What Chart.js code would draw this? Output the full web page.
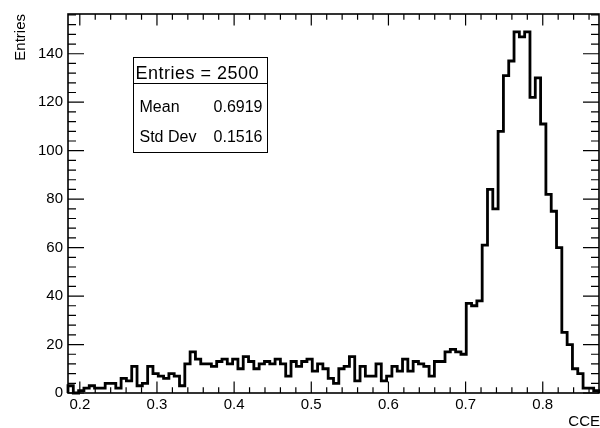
<!DOCTYPE html>
<html><head><meta charset="utf-8">
<script src="https://cdn.jsdelivr.net/npm/chart.js@4/dist/chart.umd.min.js"></script>
<style>html,body{margin:0;padding:0;background:#fff;overflow:hidden}canvas{display:block}</style>
</head><body>
<canvas id="c" width="600" height="428"></canvas>
<script>
// Histogram bin contents (100 equal bins between xMin and xMax)
const counts = [
  3,0,1,2,3,2,2,4,4,2,
  6,5,11,3,4,11,8,7,6,8,
  7,3,12,17,14,12,12,11,13,14,
  12,14,10,15,13,10,12,13,12,14,
  12,7,13,11,13,14,9,12,10,6,
  4,10,11,15,5,11,7,7,12,5,
  7,11,9,14,9,13,12,11,7,13,
  13,17,18,17,16,37,36,38,61,84,
  76,108,131,137,149,147,149,122,130,111,
  82,75,60,25,20,10,8,2,2,1
];
const xMin = 0.1847, xMax = 0.8729;
const yMin = 0, yMax = 156.4;
const xTickValues = [0.2,0.3,0.4,0.5,0.6,0.7,0.8];
const xTickLabels = ['0.2','0.3','0.4','0.5','0.6','0.7','0.8'];
const xMinorStep = 0.02;
const yTickValues = [0,20,40,60,80,100,120,140];
const yTickLabels = ['0','20','40','60','80','100','120','140'];
const yMinorStep = 4;
const xTitle = 'CCE';
const yTitle = 'Entries';
const statsHeader = 'Entries = 2500';
const statsNames = ['Mean','Std Dev'];
const statsValues = ['0.6919','0.1516'];

const FONT = '"Liberation Sans", Arial, Helvetica, sans-serif';

const nBins = counts.length;
const binW = (xMax - xMin) / nBins;
const points = [{x: xMin, y: 0}];
counts.forEach((c, i) => points.push({x: xMin + i * binW, y: c}));
points.push({x: xMax, y: counts[nBins - 1]});
points.push({x: xMax, y: 0});

const rootFrame = {
  id: 'rootFrame',
  afterDatasetsDraw(chart) {
    const ctx = chart.ctx;
    const a = chart.chartArea;
    const xs = chart.scales.x, ys = chart.scales.y;
    ctx.save();
    ctx.strokeStyle = '#000';
    // ticks
    ctx.lineWidth = 1.2;
    const xMajLen = 11.5, xMinLen = 5.8, yMajLen = 16, yMinLen = 8;
    ctx.beginPath();
    const xStart = Math.ceil(xMin / xMinorStep - 1e-9);
    for (let k = xStart; k * xMinorStep <= xMax + 1e-9; k++) {
      const v = k * xMinorStep;
      const isMaj = xTickValues.some(t => Math.abs(t - v) < 1e-6);
      const px = xs.getPixelForValue(v);
      const len = isMaj ? xMajLen : xMinLen;
      ctx.moveTo(px, a.bottom); ctx.lineTo(px, a.bottom - len);
      ctx.moveTo(px, a.top); ctx.lineTo(px, a.top + len);
    }
    for (let k = 0; k * yMinorStep <= yMax + 1e-9; k++) {
      const v = k * yMinorStep;
      const isMaj = yTickValues.includes(v);
      const py = ys.getPixelForValue(v);
      const len = isMaj ? yMajLen : yMinLen;
      ctx.moveTo(a.left, py); ctx.lineTo(a.left + len, py);
      ctx.moveTo(a.right, py); ctx.lineTo(a.right - len, py);
    }
    ctx.stroke();
    // frame
    ctx.lineWidth = 1.6;
    ctx.strokeRect(a.left, a.top, a.right - a.left, a.bottom - a.top);

    // axis titles
    ctx.fillStyle = '#000';
    ctx.font = '15px ' + FONT;
    ctx.textAlign = 'right';
    ctx.textBaseline = 'alphabetic';
    ctx.fillText(xTitle, 600, 426);
    ctx.save();
    ctx.translate(25, a.top);
    ctx.rotate(-Math.PI / 2);
    ctx.textAlign = 'right';
    ctx.fillText(yTitle, 0, 0);
    ctx.restore();

    // stats box
    const bx = 133.5, by = 57.5, bw = 134, bh = 95, div = 83.5;
    ctx.fillStyle = '#fff';
    ctx.fillRect(bx, by, bw, bh);
    ctx.lineWidth = 1;
    ctx.strokeStyle = '#000';
    ctx.strokeRect(bx, by, bw, bh);
    ctx.beginPath();
    ctx.moveTo(bx, div); ctx.lineTo(bx + bw, div);
    ctx.stroke();
    ctx.fillStyle = '#000';
    ctx.textBaseline = 'alphabetic';
    ctx.font = '18px ' + FONT;
    ctx.textAlign = 'left';
    if ('letterSpacing' in ctx) ctx.letterSpacing = '0.5px';
    ctx.fillText(statsHeader, bx + 2, 79);
    if ('letterSpacing' in ctx) ctx.letterSpacing = '0px';
    ctx.textBaseline = 'middle';
    ctx.font = '16px ' + FONT;
    const rowY = [108, 137.5];
    statsNames.forEach((n, i) => {
      ctx.textAlign = 'left';
      ctx.fillText(n, bx + 6, rowY[i]);
      ctx.textAlign = 'right';
      ctx.fillText(statsValues[i], bx + bw - 5, rowY[i]);
    });
    ctx.restore();
  }
};

new Chart(document.getElementById('c'), {
  type: 'line',
  data: {
    datasets: [{
      data: points,
      stepped: 'before',
      borderColor: '#000',
      borderWidth: 2.8,
      borderJoinStyle: 'miter',
      borderCapStyle: 'butt',
      pointRadius: 0,
      fill: false,
      tension: 0,
      clip: false
    }]
  },
  options: {
    responsive: false,
    animation: false,
    events: [],
    layout: {padding: {left: 0, right: 1, top: 9, bottom: 0}},
    plugins: {legend: {display: false}, tooltip: {enabled: false}, title: {display: false}},
    scales: {
      x: {
        type: 'linear', min: xMin, max: xMax,
        grid: {display: false, drawTicks: false},
        border: {display: false},
        afterBuildTicks: s => { s.ticks = xTickValues.map(v => ({value: v})); },
        afterFit: s => { s.height = 35; },
        ticks: {
          autoSkip: false, maxRotation: 0, padding: 3,
          color: '#000', font: {family: FONT, size: 15},
          callback: (v, i) => xTickLabels[i]
        }
      },
      y: {
        type: 'linear', min: yMin, max: yMax,
        grid: {display: false, drawTicks: false},
        border: {display: false},
        afterBuildTicks: s => { s.ticks = yTickValues.map(v => ({value: v})); },
        afterFit: s => { s.width = 68; },
        ticks: {
          autoSkip: false, padding: 5,
          color: '#000', font: {family: FONT, size: 15},
          callback: (v, i) => yTickLabels[i]
        }
      }
    }
  },
  plugins: [rootFrame]
});
</script>
</body></html>
